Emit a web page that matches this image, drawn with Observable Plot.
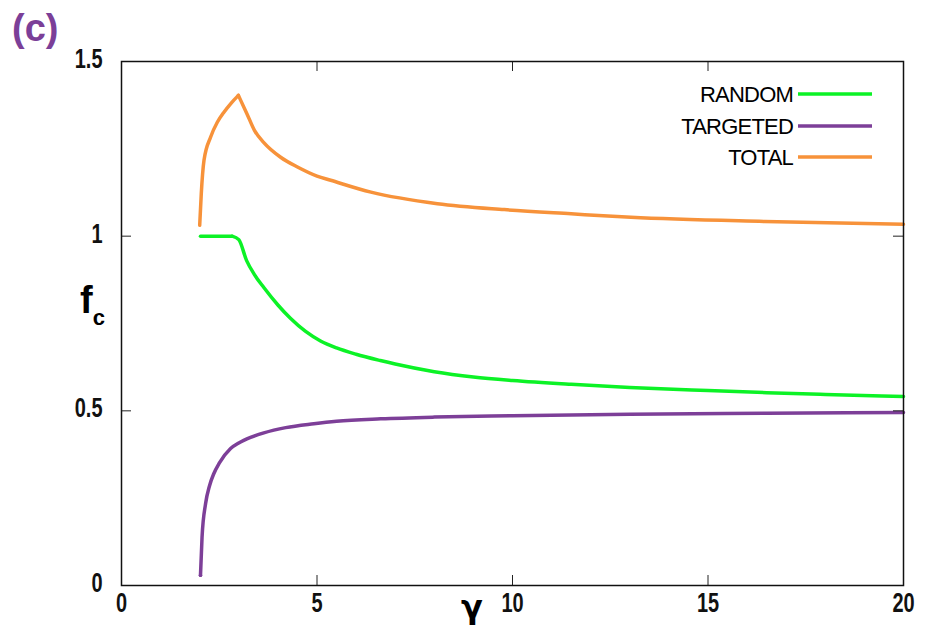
<!DOCTYPE html>
<html><head><meta charset="utf-8">
<script src="https://cdn.jsdelivr.net/npm/d3@7"></script>
<script src="https://cdn.jsdelivr.net/npm/@observablehq/plot@0.6"></script>
<style>
body{margin:0;background:#fff;}
#chart{width:928px;height:627px;}
</style></head><body><div id="chart"></div>
<script>
// ---- data ----
const seriesNames = ["RANDOM", "TARGETED", "TOTAL"];
const seriesColors = ["#0cf226", "#7d3f98", "#f7923a"];

const randomGamma = [2.02, 2.5, 2.83, 3.0, 3.2, 3.4, 3.64, 4.0, 4.32, 4.7, 5.09, 5.5, 6.0, 6.62, 7.0, 8.0, 9.0, 10, 11.5, 13, 15, 16.5, 18, 20];
const randomFc    = [1.0, 1.0, 1.0, 0.99, 0.93, 0.89, 0.853, 0.803, 0.765, 0.728, 0.70, 0.68, 0.662, 0.644, 0.634, 0.612, 0.597, 0.587, 0.576, 0.567, 0.558, 0.552, 0.547, 0.541];

const targetedGamma = [2.02, 2.06, 2.15, 2.25, 2.36, 2.5, 2.79, 3.0, 3.3, 3.64, 4.2, 4.92, 5.5, 6.63, 8, 10, 13, 16.5, 20];
const targetedFc    = [0.029, 0.138, 0.234, 0.285, 0.32, 0.35, 0.392, 0.408, 0.424, 0.437, 0.452, 0.463, 0.47, 0.477, 0.482, 0.486, 0.49, 0.493, 0.495];

const totalGamma = [2.0, 2.04, 2.11, 2.28, 2.45, 2.62, 2.79, 2.99, 3.21, 3.4, 3.64, 4.07, 4.5, 5.0, 5.35, 6.38, 8.08, 9.79, 11.5, 13.03, 16.45, 20];
const totalFc    = [1.031, 1.121, 1.217, 1.284, 1.326, 1.355, 1.379, 1.403, 1.35, 1.303, 1.268, 1.226, 1.198, 1.172, 1.160, 1.126, 1.093, 1.076, 1.064, 1.054, 1.042, 1.034];

const xTicks = [0, 5, 10, 15, 20];
const xTickLabels = ["0", "5", "10", "15", "20"];
const yTicks = [0, 0.5, 1, 1.5];
const yTickLabels = ["0", "0.5", "1", "1.5"];

// ---- build table: split each series at its kink so the curve keeps sharp corners ----
function segments(name, g, f, breakAt) {
  const out = [];
  g.forEach((x, i) => {
    if (i <= breakAt) out.push({series: name, seg: name + "a", gamma: x, fc: f[i]});
    if (i >= breakAt) out.push({series: name, seg: name + "b", gamma: x, fc: f[i]});
  });
  return out;
}
const rows = [
  ...segments("TOTAL", totalGamma, totalFc, totalGamma.indexOf(2.99)),
  ...segments("RANDOM", randomGamma, randomFc, randomGamma.indexOf(2.83)),
  ...segments("TARGETED", targetedGamma, targetedFc, 0)
];

const W = 928, H = 627, mL = 121, mR = 25, mT = 61, mB = 42;
const innerW = W - mL - mR, innerH = H - mT - mB;
const tickLen = 10;
const numFont = "'Liberation Sans', Arial, sans-serif";

const svg = Plot.plot({
  width: W, height: H,
  marginLeft: mL, marginRight: mR, marginTop: mT, marginBottom: mB,
  style: {background: "white", color: "black"},
  x: {domain: [0, 20], axis: null},
  y: {domain: [0, 1.5], axis: null},
  color: {domain: seriesNames, range: seriesColors},
  marks: [
    Plot.line(rows, {x: "gamma", y: "fc", z: "seg", stroke: "series", strokeWidth: 3.5, curve: "monotone-x"}),
    Plot.tickX(xTicks, {x: d => d, insetTop: innerH - tickLen, stroke: "#222"}),
    Plot.tickX(xTicks, {x: d => d, insetBottom: innerH - tickLen, stroke: "#222"}),
    Plot.tickY(yTicks, {y: d => d, insetRight: innerW - tickLen, stroke: "#222"}),
    Plot.tickY(yTicks, {y: d => d, insetLeft: innerW - tickLen, stroke: "#222"}),
    Plot.frame({stroke: "#111", strokeWidth: 1.5}),
    Plot.text(xTicks, {x: d => d, text: (d, i) => xTickLabels[i], frameAnchor: "bottom", lineAnchor: "top", dy: 7,
      fontSize: 27, fontFamily: numFont, fontWeight: "bold", fill: "#111"}),
    Plot.text(yTicks, {y: d => d, text: (d, i) => yTickLabels[i], frameAnchor: "left", textAnchor: "end", dx: -19, dy: -2,
      fontSize: 27, fontFamily: numFont, fontWeight: "bold", fill: "#111"})
  ]
});

const s = d3.select(svg);
// the only texts so far are the tick labels: squeeze each one horizontally about its anchor (condensed look)
s.selectAll("text").each(function() {
  const t = this.getAttribute("transform");
  if (t) {
    this.setAttribute("transform", t + " scale(0.74,1)");
  } else {
    const x = +this.getAttribute("x") || 0, y = +this.getAttribute("y") || 0;
    this.setAttribute("transform", `translate(${x},${y}) scale(0.74,1) translate(${-x},${-y})`);
  }
});
// panel label
s.append("text").attr("x", 12).attr("y", 41).attr("text-anchor", "start")
  .attr("font-family", "'Liberation Sans', Arial, sans-serif").attr("font-weight", "bold")
  .attr("font-size", 38).attr("fill", "#7b3f98").text("(c)");
// y label
const yl = s.append("text").attr("x", 80).attr("y", 313).attr("text-anchor", "start")
  .attr("font-family", "'Liberation Sans', Arial, sans-serif").attr("font-weight", "bold")
  .attr("font-size", 38).attr("fill", "#000");
yl.append("tspan").text("f");
yl.append("tspan").attr("font-size", 22).attr("dy", 12).text("c");
// x label
s.append("text").attr("x", 472).attr("y", 618).attr("text-anchor", "middle")
  .attr("font-family", "'DejaVu Sans', sans-serif").attr("font-weight", "bold")
  .attr("font-size", 32).attr("fill", "#000").text("γ");
// legend
const legY = [94, 126, 157];
seriesNames.forEach((n, i) => {
  s.append("text").attr("x", 793).attr("y", legY[i]).attr("dy", "0.35em")
    .attr("text-anchor", "end").attr("font-family", "'Liberation Sans', Arial, sans-serif")
    .attr("font-size", 22).attr("letter-spacing", "-0.8").attr("fill", "#000").text(n);
  s.append("line").attr("x1", 798).attr("x2", 872).attr("y1", legY[i]).attr("y2", legY[i])
    .attr("stroke", seriesColors[i]).attr("stroke-width", 3.5);
});

document.getElementById("chart").appendChild(svg);
</script></body></html>
